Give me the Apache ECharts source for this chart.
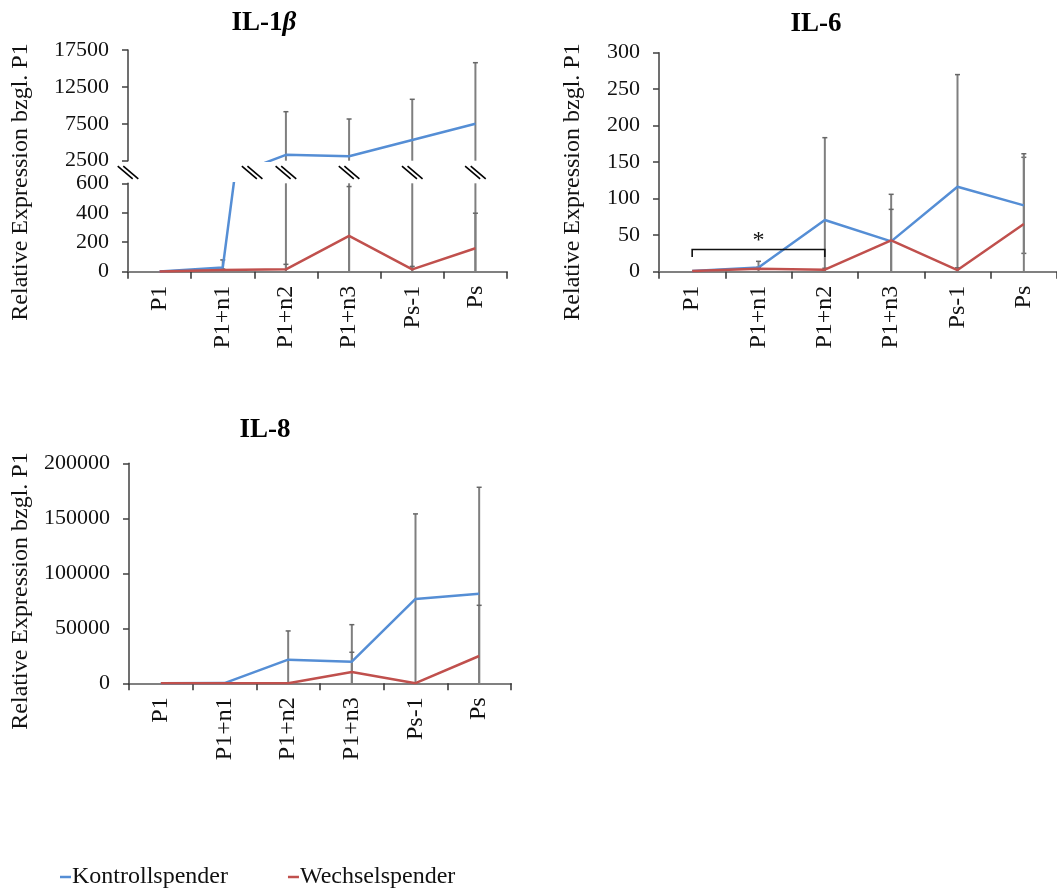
<!DOCTYPE html>
<html><head><meta charset="utf-8">
<script src="https://cdn.jsdelivr.net/npm/echarts@6/dist/echarts.min.js"></script>
<style>html,body{margin:0;padding:0;background:#fff}#c{width:1057px;height:888px}</style>
</head><body><div id="c"></div>
<script>
// ---------- data ----------
const categories = ['P1', 'P1+n1', 'P1+n2', 'P1+n3', 'Ps-1', 'Ps'];
const seriesNames = ['Kontrollspender', 'Wechselspender'];

// IL-1beta
const il1Blue    = [1, 28, 3300, 3100, 5300, 7500];
const il1BlueErr = [0, 52, 5840, 5050, 5520, 8280];
const il1Red     = [1, 12, 16, 243, 16, 159];
const il1RedErr  = [0, 6, 34, 335, 20, 238];
const il1UpperTicks = [2500, 17500, 5000];   // min, max, step
const il1LowerTicks = [0, 600, 200];

// IL-6
const il6Blue    = [1, 5.9, 70.8, 41.5, 116.4, 90.9];
const il6BlueErr = [0, 8.3, 112.8, 64.5, 153.6, 65.8];
const il6Red     = [1, 4, 2.7, 43, 2.3, 65.3];
const il6RedErr  = [0, 2, 2, 42.4, 3, 96.3];
const il6Ticks   = [0, 300, 50];
const il6Sig     = [[0, 2, 30.5, 20, '*']];  // from, to, level, leg end, label

// IL-8
const il8Blue    = [1, 200, 21500, 19700, 76700, 81500];
const il8BlueErr = [0, 300, 26100, 33600, 77300, 96700];
const il8Red     = [1, 50, 100, 10300, 100, 24800];
const il8RedErr  = [0, 50, 100, 17900, 100, 46100];
const il8Ticks   = [0, 200000, 50000];

// ---------- style ----------
const FONT = '"Liberation Serif", "DejaVu Serif", serif';
const BLUE = '#558ED5', RED = '#C0504D', ERR = '#7F7F7F';

function yAx(grid, t) {
  return {
    type: 'value', gridIndex: grid, min: t[0], max: t[1], interval: t[2],
    axisLine: {show: true, lineStyle: {color: '#404040', width: 1.5}},
    axisTick: {show: true, length: 6, lineStyle: {color: '#404040', width: 1.5}},
    splitLine: {show: false},
    axisLabel: {color: '#111', fontFamily: FONT, fontSize: 22, margin: 19, formatter: (v) => String(v)}
  };
}
function xAx(grid, show) {
  return {
    type: 'category', gridIndex: grid, data: categories, boundaryGap: true, show: show,
    axisLine: {show: true, onZero: false, lineStyle: {color: '#808080', width: 2}},
    axisTick: {show: true, length: 7, alignWithLabel: false, lineStyle: {color: '#333', width: 1.5}},
    axisLabel: {color: '#111', fontFamily: FONT, fontSize: 24, rotate: 90, margin: 14, interval: 0},
    splitLine: {show: false}
  };
}
function lineS(name, data, idx, color) {
  return {
    type: 'line', name: name, data: data, xAxisIndex: idx, yAxisIndex: idx,
    showSymbol: false, symbol: 'none', clip: true, z: 3,
    lineStyle: {color: color, width: 2.5}, itemStyle: {color: color}
  };
}
function errRender(params, api) {
  const cs = params.coordSys;
  const i = api.value(0), v = api.value(1), e = api.value(2);
  if (!e) return null;
  const x = api.coord([i, v])[0];
  const yTop = api.coord([i, v + e])[1];
  const yBot = api.coord([i, v - e])[1];
  const top = cs.y, bot = cs.y + cs.height;
  const y1 = Math.max(top, Math.min(bot, yTop));
  const y2 = Math.max(top, Math.min(bot, yBot));
  const ch = [];
  if (y2 - y1 > 0.5) ch.push({type: 'line', shape: {x1: x, y1: y1, x2: x, y2: y2}, style: {stroke: ERR, lineWidth: 2}});
  const cap = (y) => ({type: 'line', shape: {x1: x - 2.5, y1: y, x2: x + 2.5, y2: y}, style: {stroke: '#666', lineWidth: 1.5}});
  if (yTop >= top - 0.5 && yTop <= bot - 1) ch.push(cap(yTop));
  if (yBot >= top && yBot <= bot - 1.5) ch.push(cap(yBot));
  return {type: 'group', children: ch};
}
function errS(name, vals, errs, idx) {
  return {
    type: 'custom', name: name + ' SD', xAxisIndex: idx, yAxisIndex: idx, z: 1,
    renderItem: errRender, encode: {x: 0, y: 1}, silent: true,
    data: vals.map((v, i) => [i, v, errs[i]])
  };
}

// break positions for IL-1beta (axis, blue-line crossing, error bars) in category units
function breakPositions() {
  const lo = il1LowerTicks[1], hi = il1UpperTicks[0];
  const pos = [-0.5];
  for (let i = 0; i < il1Blue.length - 1; i++) {
    const a = il1Blue[i], b = il1Blue[i + 1];
    if (a < lo && b > hi) {
      const ex = i + (lo - a) / (b - a), en = i + (hi - a) / (b - a);
      pos.push((ex + en) / 2);
    }
  }
  for (let i = 0; i < il1Blue.length; i++) {
    if (il1Blue[i] - il1BlueErr[i] < lo && il1Blue[i] + il1BlueErr[i] > hi) pos.push(i);
  }
  return pos;
}
function fracX(api, p) {
  const i0 = Math.max(0, Math.min(categories.length - 2, Math.floor(p)));
  const c0 = api.coord([i0, 0])[0], c1 = api.coord([i0 + 1, 0])[0];
  return c0 + (p - i0) * (c1 - c0);
}
function breakRender(params, api) {
  const cs = params.coordSys;
  const x = fracX(api, api.value(0));
  const y = cs.y - 10.8;
  const mk = (dx) => ({type: 'line', shape: {x1: x + dx - 7.5, y1: y - 6.3, x2: x + dx + 7.5, y2: y + 6.3}, style: {stroke: '#000', lineWidth: 1.6}});
  return {type: 'group', children: [mk(-2.8), mk(2.8)]};
}
function sigRender(params, api) {
  const a = api.value(0), b = api.value(1), lvl = api.value(2), leg = api.value(3);
  const p1 = api.coord([a, lvl]), p2 = api.coord([b, lvl]);
  const yl = api.coord([a, leg])[1];
  return {type: 'group', children: [
    {type: 'polyline', shape: {points: [[p1[0], yl], [p1[0], p1[1]], [p2[0], p2[1]], [p2[0], yl]]},
     style: {stroke: '#111', lineWidth: 1.6, fill: null}},
    {type: 'text', x: (p1[0] + p2[0]) / 2, y: p1[1] - 9,
     style: {text: il6Sig[params.dataIndex][4], font: '24px ' + FONT, fill: '#111', align: 'center', verticalAlign: 'middle', textAlign: 'center', textVerticalAlign: 'middle'}}
  ]};
}

const nameStyle = {text: 'Relative Expression bzgl. P1', font: '24px ' + FONT, fill: '#111',
  align: 'center', verticalAlign: 'middle', textAlign: 'center', textVerticalAlign: 'middle'};

const option = {
  animation: false,
  backgroundColor: '#fff',
  title: [
    {text: '{b|IL-1}{i|β}', left: 259, top: 5, textAlign: 'center',
     textStyle: {rich: {b: {fontFamily: FONT, fontWeight: 'bold', fontSize: 27, color: '#000'},
                        i: {fontFamily: FONT, fontStyle: 'italic', fontSize: 27, color: '#000'}}}},
    {text: 'IL-6', left: 811, top: 6, textAlign: 'center',
     textStyle: {fontFamily: FONT, fontWeight: 'bold', fontSize: 27, color: '#000'}},
    {text: 'IL-8', left: 260, top: 412, textAlign: 'center',
     textStyle: {fontFamily: FONT, fontWeight: 'bold', fontSize: 27, color: '#000'}}
  ],
  legend: {
    data: seriesNames, left: 55, top: 860, icon: 'rect', itemWidth: 11, itemHeight: 2.5,
    itemGap: 60, textStyle: {fontFamily: FONT, fontSize: 24, color: '#111', padding: [0, 0, 0, -4]}
  },
  grid: [
    {left: 128, top: 50, width: 379, height: 110.7},
    {left: 128, top: 183.3, width: 379, height: 88.4},
    {left: 659, top: 52.7, width: 398, height: 219},
    {left: 129, top: 463.3, width: 382, height: 220}
  ],
  xAxis: [xAx(0, false), xAx(1, true), xAx(2, true), xAx(3, true)],
  yAxis: [yAx(0, il1UpperTicks), yAx(1, il1LowerTicks), yAx(2, il6Ticks), yAx(3, il8Ticks)],
  graphic: [
    {type: 'text', x: 21, y: 182, rotation: Math.PI / 2, style: nameStyle},
    {type: 'text', x: 573, y: 182, rotation: Math.PI / 2, style: nameStyle},
    {type: 'text', x: 21, y: 591, rotation: Math.PI / 2, style: nameStyle}
  ],
  series: [
    errS('K', il1Blue, il1BlueErr, 0), errS('W', il1Red, il1RedErr, 0),
    errS('K', il1Blue, il1BlueErr, 1), errS('W', il1Red, il1RedErr, 1),
    lineS(seriesNames[0], il1Blue, 0, BLUE), lineS(seriesNames[1], il1Red, 0, RED),
    lineS(seriesNames[0], il1Blue, 1, BLUE), lineS(seriesNames[1], il1Red, 1, RED),
    {type: 'custom', xAxisIndex: 1, yAxisIndex: 1, clip: false, silent: true, z: 4,
     renderItem: breakRender, encode: {x: 0}, data: breakPositions().map(p => [p])},

    errS('K', il6Blue, il6BlueErr, 2), errS('W', il6Red, il6RedErr, 2),
    lineS(seriesNames[0], il6Blue, 2, BLUE), lineS(seriesNames[1], il6Red, 2, RED),
    {type: 'custom', xAxisIndex: 2, yAxisIndex: 2, silent: true, z: 4,
     renderItem: sigRender, encode: {x: [0, 1], y: 2}, data: il6Sig.map(s => s.slice(0, 4))},

    errS('K', il8Blue, il8BlueErr, 3), errS('W', il8Red, il8RedErr, 3),
    lineS(seriesNames[0], il8Blue, 3, BLUE), lineS(seriesNames[1], il8Red, 3, RED)
  ]
};
const chart = echarts.init(document.getElementById('c'), null, {renderer: 'canvas'});
chart.setOption(option);
</script>
</body></html>
